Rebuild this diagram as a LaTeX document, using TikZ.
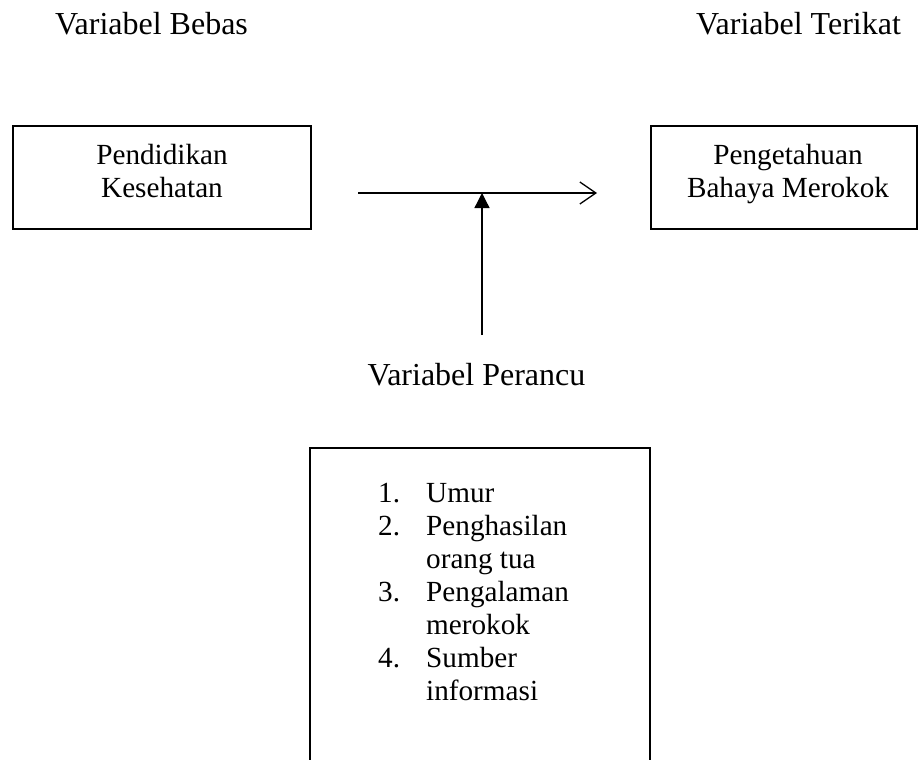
\documentclass[tikz,border=0pt]{standalone}
\usepackage{fontspec}
\setmainfont{Liberation Serif}
\usetikzlibrary{arrows.meta}
\begin{document}
\begin{tikzpicture}[x=1pt,y=-1pt,
  font=\fontsize{29.2}{33}\selectfont,
  box/.style={draw, rectangle, line width=2pt, inner sep=0pt},
  txt/.style={anchor=base, inner sep=0pt},
  title/.style={anchor=base, inner sep=0pt, font=\fontsize{32}{36}\selectfont},
  ltxt/.style={anchor=base west, inner sep=0pt},
  conn/.style={line width=1.3pt}]
\useasboundingbox (0,0) rectangle (919,760);
\clip (0,0) rectangle (919,760);
% titles
\node[title] (tb) at (151.5,35) {Variabel Bebas};
\node[title] (tt) at (798.5,35) {Variabel Terikat};
\node[title] (tp) at (476.5,385) {Variabel Perancu};
% boxes
\node[box, minimum width=298pt, minimum height=103pt] (pk) at (162,177.5) {};
\node[txt] (pk1) at (162,164) {Pendidikan};
\node[txt] (pk2) at (162,197) {Kesehatan};
\node[box, minimum width=266pt, minimum height=103pt] (pb) at (784,177.5) {};
\node[txt] (pb1) at (788,164) {Pengetahuan};
\node[txt] (pb2) at (788,197) {Bahaya Merokok};
\node[box, minimum width=340pt, minimum height=340pt] (pc) at (480,618) {};
% list
\node[ltxt] (n1) at (378,502) {1.};
\node[ltxt] (l1) at (426,502) {Umur};
\node[ltxt] (n2) at (378,535) {2.};
\node[ltxt] (l2) at (426,535) {Penghasilan};
\node[ltxt] (l2b) at (426,568) {orang tua};
\node[ltxt] (n3) at (378,601) {3.};
\node[ltxt] (l3) at (426,601) {Pengalaman};
\node[ltxt] (l3b) at (426,634) {merokok};
\node[ltxt] (n4) at (378,667) {4.};
\node[ltxt] (l4) at (426,667) {Sumber};
\node[ltxt] (l4b) at (426,700) {informasi};
% connectors
\coordinate (hs) at (358,193);
\coordinate (he) at (597,193);
\coordinate (vs) at (482,335);
\coordinate (vj) at (482,193);
\draw[conn, -{Straight Barb[length=16pt,width=22pt,line width=1.3pt]}] (hs) -- (he);
\draw[conn, -{Triangle[length=15pt,width=15pt]}] (vs) -- (vj);
\end{tikzpicture}
\end{document}
